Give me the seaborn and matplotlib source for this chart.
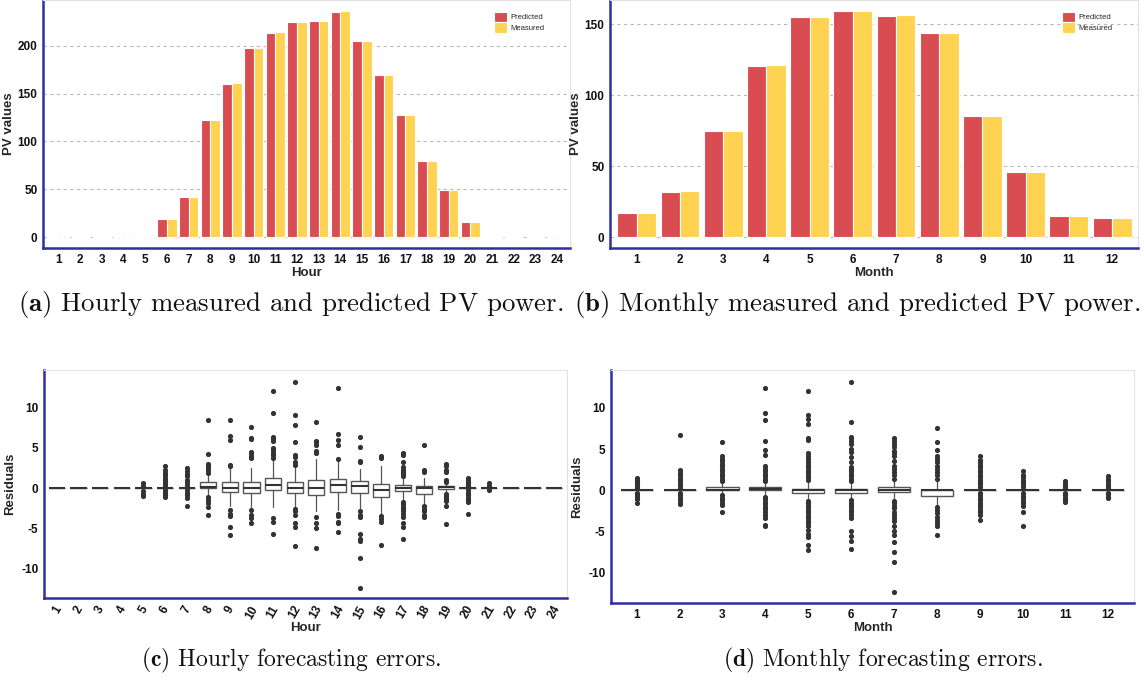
import matplotlib
matplotlib.use("Agg")
import matplotlib.pyplot as plt
import seaborn as sns
import pandas as pd

# ---------------- data ----------------
hours = [str(h) for h in range(1, 25)]
months = [str(m) for m in range(1, 13)]

hour_predicted = [0, 0, 0, 0, 0, 19.2, 41.6, 122.4, 160.5, 197.6, 213.9, 224.5,
                  226.2, 235.7, 204.9, 169.9, 127.3, 79.4, 49.7, 16.1, 0.7, 0, 0, 0]
hour_measured = [0, 0, 0, 0, 0, 19.0, 41.5, 122.8, 160.8, 197.8, 214.6, 224.7,
                 226.5, 236.4, 205.1, 169.6, 127.4, 79.3, 49.4, 15.8, 0.6, 0, 0, 0]

month_predicted = [17.2, 32.1, 74.6, 120.7, 155.2, 159.2, 155.9, 143.8, 85.3, 45.6, 14.9, 13.2]
month_measured = [17.1, 32.2, 74.8, 120.9, 155.3, 159.4, 156.1, 143.9, 85.4, 45.7, 14.9, 13.1]

series_names = ["Predicted", "Measured"]
series_colors = ["#D94D52", "#FED352"]

# hourly residual box statistics
hour_med = [0, 0, 0, 0, 0, 0, 0, 0.1, 0.05, 0, 0.35, 0.05, 0.05, 0.4, 0.25, -0.2, 0, 0, 0.1, 0, 0, 0, 0, 0]
hour_q1 = [0, 0, 0, 0, 0, 0, 0, 0, -0.5, -0.6, -0.3, -0.6, -0.9, -0.5, -0.6, -1.1, -0.4, -0.7, -0.1, 0, 0, 0, 0, 0]
hour_q3 = [0, 0, 0, 0, 0, 0, 0, 0.7, 0.8, 0.75, 1.3, 0.7, 1.0, 1.1, 0.9, 0.5, 0.4, 0.2, 0.3, 0, 0, 0, 0, 0]
hour_wlo = [0, 0, 0, 0, 0, 0, 0, -0.8, -2.3, -2.4, -2.4, -2.4, -2.9, -2.8, -2.5, -3.2, -1.5, -1.9, -0.6, 0, 0, 0, 0, 0]
hour_whi = [0, 0, 0, 0, 0, 0, 0, 1.5, 2.6, 2.5, 3.5, 2.5, 3.6, 3.5, 2.4, 2.7, 1.3, 1.3, 0.8, 0, 0, 0, 0, 0]
hour_fliers = [
    [], [], [], [],
    [0.6, 0.2, -0.4, -0.8, -1.0],
    [2.8, 2.3, 1.9, 1.6, 1.3, 1.0, 0.8, 0.5, 0.3, -0.3, -0.5, -0.7, -0.9, -1.1],
    [2.5, 2.1, 1.7, 1.5, 1.0, 0.7, 0.4, -0.3, -0.6, -0.9, -1.2, -2.3],
    [8.5, 4.2, 3.0, 2.7, 2.5, 2.2, 1.9, -1.1, -1.5, -1.9, -2.4, -3.3],
    [8.5, 6.5, 6.0, 2.9, 2.8, -2.8, -3.2, -3.5, -4.8, -5.8],
    [7.6, 6.2, 6.1, 4.5, 4.3, 4.0, 3.7, -2.7, -3.4, -3.7, -4.3],
    [12.1, 9.4, 6.3, 6.1, 5.8, 5.0, 4.7, 4.4, 4.1, 3.8, -3.7, -4.2, -5.7],
    [13.2, 9.1, 7.9, 5.7, 4.1, 3.9, 3.2, 2.9, -2.6, -2.9, -3.4, -4.4, -4.9, -7.2],
    [8.2, 5.9, 5.7, 5.4, 4.6, 4.3, -3.6, -4.4, -5.0, -7.5],
    [12.4, 6.7, 6.0, 5.4, 3.6, -3.2, -3.5, -4.2, -4.4, -5.5],
    [6.3, 5.1, 3.4, 3.2, -2.9, -3.3, -3.6, -5.7, -6.4, -6.6, -8.7, -12.5],
    [4.0, 3.7, -3.5, -3.9, -4.2, -7.1],
    [4.3, 4.1, 3.2, 2.6, 2.3, 2.1, 1.9, 1.7, 1.5, -1.7, -2.0, -2.4, -2.6, -2.9, -3.2, -3.6, -4.3, -4.9, -6.3],
    [5.3, 2.2, 2.0, -2.3, -2.6, -2.9, -3.3, -3.6],
    [3.0, 2.7, 2.3, 2.0, 1.0, 0.8, -0.7, -1.0, -1.2, -1.4, -1.6, -2.3, -4.5],
    [1.2, 1.0, 0.8, 0.6, 0.4, 0.2, -0.3, -0.6, -0.9, -1.2, -1.5, -1.8, -3.2],
    [0.6, 0.3, -0.2],
    [], [], [],
]

# monthly residual box statistics
month_med = [0, 0, 0.05, 0.1, 0.05, 0, 0.05, 0, 0, 0, 0, 0]
month_q1 = [0, 0, 0, 0, -0.4, -0.4, -0.25, -0.75, 0, 0, 0, 0]
month_q3 = [0, 0, 0.35, 0.4, 0.1, 0.1, 0.4, 0.05, 0.05, 0, 0, 0]
month_wlo = [0, 0, -0.5, -0.6, -1.0, -1.0, -1.1, -1.8, -0.1, 0, 0, 0]
month_whi = [0, 0, 0.9, 1.0, 1.0, 0.9, 1.2, 1.2, 0.1, 0, 0, 0]
month_fliers = [
    [1.5, 1.3, 1.1, 0.9, 0.7, 0.5, 0.3, -0.3, -0.5, -0.7, -0.9, -1.1, -1.5],
    [6.7, 2.4, 2.1, 1.8, 1.5, 1.2, 0.9, 0.6, 0.3, -0.3, -0.6, -0.9, -1.2, -1.5, -1.7],
    [5.9, 4.1, 3.8, 3.5, 3.2, 2.9, 2.6, 2.3, 2.0, 1.7, 1.4, 1.1, -0.6, -0.9, -1.2, -1.5, -1.8, -2.6],
    [12.4, 9.4, 8.5, 6.0, 4.9, 4.3, 2.9, 2.6, 2.3, 2.0, 1.7, 1.4, 1.1,
     -0.8, -1.1, -1.4, -1.7, -2.0, -2.3, -2.6, -3.0, -3.4, -4.2, -4.4],
    [12.1, 9.1, 8.6, 8.1, 6.3, 6.1, 4.5, 4.1, 3.8, 3.4, 3.1, 2.8, 2.5, 2.2, 1.9, 1.6, 1.3,
     -1.3, -1.6, -1.9, -2.2, -2.5, -2.8, -3.1, -3.4, -3.7, -4.0, -4.4, -4.8, -5.3, -5.7, -6.6, -7.3],
    [13.2, 8.3, 6.5, 6.3, 6.0, 5.6, 5.0, 4.6, 4.0, 3.4, 2.8, 2.6, 2.3, 2.0, 1.7, 1.4, 1.1,
     -1.2, -1.5, -1.8, -2.1, -2.4, -2.7, -3.0, -3.4, -4.9, -5.6, -6.2, -7.1],
    [6.3, 6.0, 5.6, 5.2, 4.8, 4.5, 4.1, 3.5, 3.0, 2.6, 2.2, 1.8, 1.4,
     -1.3, -1.6, -1.9, -2.2, -2.6, -3.0, -3.4, -3.8, -4.4, -5.0, -5.5, -6.3, -7.5, -8.7, -12.4],
    [7.6, 5.9, 4.9, 4.1, 3.8, 3.4, 3.0, 2.6, 2.2, 1.8, 1.4, -2.0, -2.4, -2.8, -3.2, -3.6, -4.0, -4.3, -5.5],
    [4.2, 3.7, 3.4, 3.1, 2.8, 2.5, 2.2, 1.9, 1.6, 1.3, 1.0, 0.7, 0.4,
     -0.3, -0.6, -0.9, -1.2, -1.5, -1.8, -2.1, -2.4, -2.7, -3.0, -3.6],
    [2.3, 1.9, 1.6, 1.3, 1.0, 0.7, 0.4, -0.4, -0.7, -1.0, -1.3, -1.6, -1.9, -2.6, -4.4],
    [1.1, 0.8, 0.5, 0.3, -0.3, -0.6, -0.9, -1.2, -1.4],
    [1.7, 1.4, 1.1, 0.8, 0.5, 0.3, -0.3, -0.5, -0.8, -1.0],
]

captions = [
    r"$\mathbf{(a)}$ Hourly measured and predicted PV power.",
    r"$\mathbf{(b)}$ Monthly measured and predicted PV power.",
    r"$\mathbf{(c)}$ Hourly forecasting errors.",
    r"$\mathbf{(d)}$ Monthly forecasting errors.",
]

# ---------------- style ----------------
sns.set_theme(style="white")
plt.rcParams["font.family"] = ["Liberation Sans", "DejaVu Sans"]
plt.rcParams["mathtext.fontset"] = "cm"
plt.rcParams["axes.unicode_minus"] = False

W, H = 1144, 681
fig = plt.figure(figsize=(W / 100, H / 100), dpi=100)
fig.patch.set_facecolor("white")

axA = fig.add_axes([43 / W, 1 - 248 / H, (570 - 43) / W, 248 / H])
axB = fig.add_axes([610 / W, 1 - 248 / H, (1138 - 610) / W, 248 / H])
axC = fig.add_axes([44 / W, 1 - 598 / H, (567 - 44) / W, (598 - 370) / H])
axD = fig.add_axes([611 / W, 1 - 603 / H, (1134 - 611) / W, (603 - 370) / H])

SPINE = "#2E2E9E"


def style_axes(ax):
    for s in ["left", "bottom"]:
        ax.spines[s].set_color(SPINE)
        ax.spines[s].set_linewidth(1.8)
        ax.spines[s].set_visible(True)
    for s in ["top", "right"]:
        ax.spines[s].set_color("#E2E2E2")
        ax.spines[s].set_linewidth(0.8)
        ax.spines[s].set_visible(True)
    ax.tick_params(axis="both", length=2, color="#BBBBBB", pad=2,
                   labelsize=8.5, labelcolor="#111111")
    for lab in ax.get_xticklabels() + ax.get_yticklabels():
        lab.set_fontweight("bold")
    ax.set_facecolor("white")


def bar_panel(ax, cats, pred, meas, xlabel, ylim, yticks, xlim):
    df = pd.DataFrame({
        "cat": cats * 2,
        "value": list(pred) + list(meas),
        "series": [series_names[0]] * len(cats) + [series_names[1]] * len(cats),
    })
    ax.set_axisbelow(True)
    ax.yaxis.grid(True, linestyle=(0, (3, 3)), color="#B8B8B8", linewidth=0.8)
    sns.barplot(data=df, x="cat", y="value", hue="series", order=cats,
                hue_order=series_names, palette=series_colors, width=0.9,
                edgecolor="white", linewidth=0.8, saturation=1, ax=ax)
    ax.set_ylim(*ylim)
    ax.set_yticks(yticks)
    ax.set_xlim(*xlim)
    ax.set_xlabel(xlabel, fontsize=9.5, fontweight="bold", labelpad=1)
    ax.set_ylabel("PV values", fontsize=9.5, fontweight="bold", labelpad=2)
    style_axes(ax)
    ax.legend(loc="upper left", bbox_to_anchor=(0.85, 0.965), frameon=False,
              fontsize=5.5, handlelength=1.75, handleheight=1.75,
              handletextpad=0.45, labelspacing=0.0, borderaxespad=0)


def box_panel(ax, cats, med, q1, q3, wlo, whi, fliers, xlabel, ylim, xlim, rot):
    stats = []
    for i in range(len(cats)):
        stats.append(dict(med=med[i], q1=q1[i], q3=q3[i], whislo=wlo[i],
                          whishi=whi[i], fliers=fliers[i]))
    ax.bxp(stats, positions=list(range(len(cats))), widths=0.75,
           patch_artist=True, manage_ticks=False,
           boxprops=dict(facecolor="white", edgecolor="#555555", linewidth=1.0),
           medianprops=dict(color="#333333", linewidth=1.5),
           whiskerprops=dict(color="#555555", linewidth=0.9),
           capprops=dict(linewidth=0),
           flierprops=dict(marker="o", markersize=2.7, markerfacecolor="#333333",
                           markeredgecolor="#333333", linestyle="none"))
    ax.set_xticks(range(len(cats)))
    ax.set_xticklabels(cats)
    ax.set_ylim(*ylim)
    ax.set_yticks([-10, -5, 0, 5, 10])
    ax.set_xlim(*xlim)
    ax.set_xlabel(xlabel, fontsize=9.5, fontweight="bold", labelpad=1)
    ax.set_ylabel("Residuals", fontsize=9.5, fontweight="bold", labelpad=4)
    style_axes(ax)
    if rot:
        for lab in ax.get_xticklabels():
            lab.set_rotation(60)
            lab.set_ha("center")


bar_panel(axA, hours, hour_predicted, hour_measured, "Hour",
          (-11.5, 248), [0, 50, 100, 150, 200], (-0.72, 23.6))
bar_panel(axB, months, month_predicted, month_measured, "Month",
          (-7.7, 167), [0, 50, 100, 150], (-0.62, 11.6))
box_panel(axC, hours, hour_med, hour_q1, hour_q3, hour_wlo, hour_whi, hour_fliers,
          "Hour", (-13.7, 14.7), (-0.6, 23.6), True)
box_panel(axD, months, month_med, month_q1, month_q3, month_wlo, month_whi, month_fliers,
          "Month", (-13.7, 14.6), (-0.6, 11.6), False)

cap_top = dict(fontsize=19.3, family="cmr10", ha="center", va="center", color="#111111")
cap_bot = dict(fontsize=17.0, family="cmr10", ha="center", va="center", color="#111111")
fig.text(291 / W, 1 - 305 / H, captions[0], **cap_top)
fig.text(857 / W, 1 - 305 / H, captions[1], **cap_top)
fig.text(291 / W, 1 - 660 / H, captions[2], **cap_bot)
fig.text(883 / W, 1 - 660 / H, captions[3], **cap_bot)

fig.savefig("out.png", dpi=100, facecolor="white")
